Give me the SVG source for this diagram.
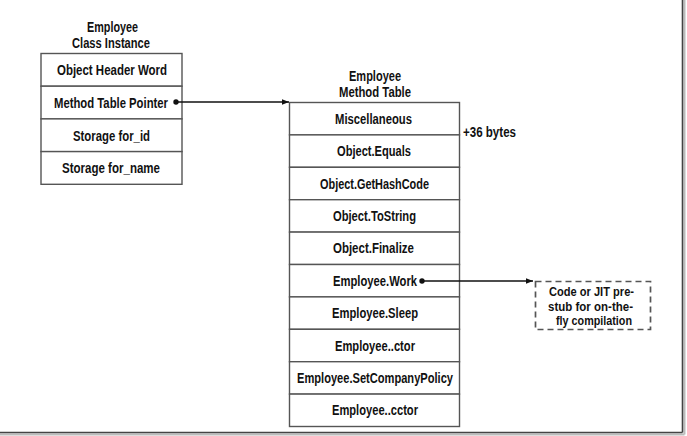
<svg xmlns="http://www.w3.org/2000/svg" width="687" height="436" viewBox="0 0 687 436">
<style>
text{font-family:"Liberation Sans",Arial,sans-serif;font-weight:bold;font-size:14.5px;fill:#111;text-anchor:middle}
.s{font-size:13px}
.cell{fill:#fff;stroke:#555;stroke-width:1.4}
.conn{stroke:#111;stroke-width:1.7;fill:none}
.dash{fill:#fff;stroke:#555;stroke-width:1.7;stroke-dasharray:6 4}
.l{text-anchor:start}
</style>
<defs>
<marker id="ah" viewBox="0 0 10 10" refX="10" refY="5" markerWidth="7" markerHeight="7" orient="auto" markerUnits="userSpaceOnUse">
<path d="M0,1 L10,5 L0,9 Z" fill="#111"/>
</marker>
</defs>
<rect width="687" height="436" fill="#fff"/>
<g id="frame">
<line x1="684.5" y1="0" x2="684.5" y2="434.5" stroke="#bbb" stroke-width="2"/>
<line x1="0" y1="434.5" x2="684.5" y2="434.5" stroke="#bbb" stroke-width="2"/>
<line x1="682.5" y1="0" x2="682.5" y2="432.5" stroke="#444" stroke-width="1.6"/>
<line x1="0" y1="432.5" x2="682.5" y2="432.5" stroke="#444" stroke-width="1.6"/>
</g>
<g id="instance">
<text x="112.5" y="32" textLength="51" lengthAdjust="spacingAndGlyphs">Employee</text>
<text x="111" y="48" textLength="78" lengthAdjust="spacingAndGlyphs">Class Instance</text>
<rect class="cell" x="41" y="53.5" width="141" height="32.7"/>
<rect class="cell" x="41" y="86.2" width="141" height="32.7"/>
<rect class="cell" x="41" y="118.9" width="141" height="32.7"/>
<rect class="cell" x="41" y="151.6" width="141" height="32.7"/>
<text x="112" y="75.3" textLength="110" lengthAdjust="spacingAndGlyphs">Object Header Word</text>
<text x="111" y="108" textLength="114" lengthAdjust="spacingAndGlyphs">Method Table Pointer</text>
<text x="111.5" y="140.7" textLength="77" lengthAdjust="spacingAndGlyphs">Storage for_id</text>
<text x="111" y="173.4" textLength="98" lengthAdjust="spacingAndGlyphs">Storage for_name</text>
</g>
<g id="methodtable">
<text x="375" y="81" textLength="52" lengthAdjust="spacingAndGlyphs">Employee</text>
<text x="375" y="96.5" textLength="72" lengthAdjust="spacingAndGlyphs">Method Table</text>
<rect class="cell" x="289.5" y="102.5" width="170" height="32.4"/>
<rect class="cell" x="289.5" y="134.9" width="170" height="32.4"/>
<rect class="cell" x="289.5" y="167.3" width="170" height="32.4"/>
<rect class="cell" x="289.5" y="199.7" width="170" height="32.4"/>
<rect class="cell" x="289.5" y="232.1" width="170" height="32.4"/>
<rect class="cell" x="289.5" y="264.5" width="170" height="32.4"/>
<rect class="cell" x="289.5" y="296.9" width="170" height="32.4"/>
<rect class="cell" x="289.5" y="329.3" width="170" height="32.4"/>
<rect class="cell" x="289.5" y="361.7" width="170" height="32.4"/>
<rect class="cell" x="289.5" y="394.1" width="170" height="32.4"/>
<text x="373.5" y="123.8" textLength="77" lengthAdjust="spacingAndGlyphs">Miscellaneous</text>
<text x="374" y="156.2" textLength="74" lengthAdjust="spacingAndGlyphs">Object.Equals</text>
<text x="374.5" y="188.6" textLength="109" lengthAdjust="spacingAndGlyphs">Object.GetHashCode</text>
<text x="374.5" y="221" textLength="83" lengthAdjust="spacingAndGlyphs">Object.ToString</text>
<text x="373.5" y="253.4" textLength="81" lengthAdjust="spacingAndGlyphs">Object.Finalize</text>
<text x="375" y="285.8" textLength="84" lengthAdjust="spacingAndGlyphs">Employee.Work</text>
<text x="375" y="318.2" textLength="86" lengthAdjust="spacingAndGlyphs">Employee.Sleep</text>
<text x="375" y="350.6" textLength="80" lengthAdjust="spacingAndGlyphs">Employee..ctor</text>
<text x="375" y="383" textLength="156" lengthAdjust="spacingAndGlyphs">Employee.SetCompanyPolicy</text>
<text x="375" y="415.4" textLength="86" lengthAdjust="spacingAndGlyphs">Employee..cctor</text>
<text class="l" x="463" y="137" textLength="53" lengthAdjust="spacingAndGlyphs">+36 bytes</text>
</g>
<g id="stub">
<rect class="dash" x="535.5" y="281.5" width="115" height="48"/>
<text class="s" x="591.5" y="296" textLength="85" lengthAdjust="spacingAndGlyphs">Code or JIT pre-</text>
<text class="s" x="590.5" y="310.5" textLength="85" lengthAdjust="spacingAndGlyphs">stub for on-the-</text>
<text class="s" x="594" y="325" textLength="76" lengthAdjust="spacingAndGlyphs">fly compilation</text>
</g>
<g id="connectors">
<circle cx="176" cy="102" r="2.7" fill="#111"/>
<line class="conn" x1="176" y1="102" x2="289" y2="102" marker-end="url(#ah)"/>
<circle cx="422" cy="281" r="2.7" fill="#111"/>
<line class="conn" x1="422" y1="281" x2="533" y2="281" marker-end="url(#ah)"/>
</g>
</svg>
